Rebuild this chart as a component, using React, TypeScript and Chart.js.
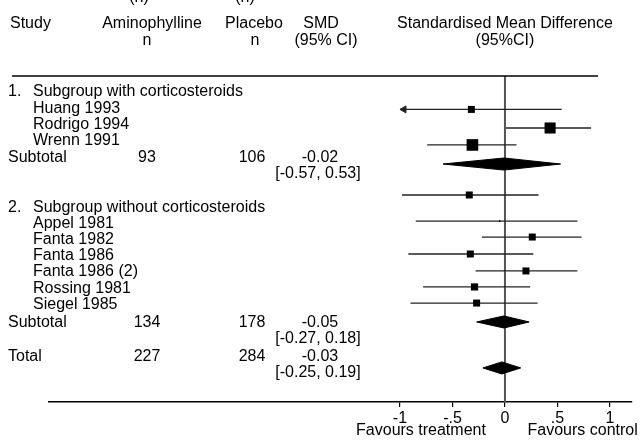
import React, { useEffect, useRef } from 'react';
import { Chart, registerables } from 'chart.js';

Chart.register(...registerables);

const FONT = '"Liberation Sans", Arial, Helvetica, sans-serif';

// ---- x axis ----
const xTicks = [-1, -0.5, 0, 0.5, 1];
const xTickLabels = ['-1', '-.5', '0', '.5', '1'];
const favourLabels = ['Favours treatment', 'Favours control'];

// ---- header ----
const headerTop = ['Study', 'Aminophylline', 'Placebo', 'SMD', 'Standardised Mean Difference'];
const headerBottom = ['', 'n', 'n', '(95% CI)', '(95%CI)'];

// ---- table text (rows in row units: 0 = top rule, 20 = axis) ----
const headingNums = ['1.', '2.'];
const headingTitles = ['Subgroup with corticosteroids', 'Subgroup without corticosteroids'];
const headingRows = [0.98, 8.05];

const studyNames = ['Huang 1993', 'Rodrigo 1994', 'Wrenn 1991', 'Appel 1981', 'Fanta 1982', 'Fanta 1986', 'Fanta 1986 (2)', 'Rossing 1981', 'Siegel 1985'];
const studyRows = [1.98, 2.98, 3.98, 9.08, 10.06, 11.04, 12.02, 13.02, 14.0];

const summaryNames = ['Subtotal', 'Subtotal', 'Total'];
const summaryRows = [4.98, 15.12, 17.2];
const summaryNTreat = [93, 134, 227];
const summaryNCtrl = [106, 178, 284];
const summarySMD = ['-0.02', '-0.05', '-0.03'];
const summaryCI = ['[-0.57, 0.53]', '[-0.27, 0.18]', '[-0.25, 0.19]'];

// ---- study markers (squares + CI lines) ----
const markerRows = [2.05, 3.19, 4.23, 7.3, 8.9, 9.88, 10.92, 11.96, 12.94, 13.93];
const markerSMD = [-0.32, 0.43, -0.31, -0.34, -0.05, 0.26, -0.33, 0.2, -0.29, -0.27];
const markerLo = [-1.3, 0.01, -0.74, -0.98, -0.85, -0.22, -0.92, -0.28, -0.78, -0.9];
const markerHi = [0.54, 0.82, 0.11, 0.32, 0.69, 0.73, 0.27, 0.69, 0.24, 0.31];
const markerWeight = [4, 10, 11, 4, 0.2, 4, 4, 4, 4.2, 4];

// ---- pooled diamonds ----
const diamondRows = [5.4, 15.09, 17.91];
const diamondMid = [-0.01, -0.01, -0.03];
const diamondLo = [-0.59, -0.27, -0.21];
const diamondHi = [0.53, 0.23, 0.15];

const X_MIN = -4.343;
const X_MAX = 1.21;
const CLIP = -1;

function App() {
  const ref = useRef<HTMLCanvasElement | null>(null);

  useEffect(() => {
    document.body.style.margin = '0';
    const canvas = ref.current;
    if (!canvas) return;

    const datasets: any[] = [];

    // squares on top
    datasets.push({
      data: markerRows.map((r, i) => ({ x: markerSMD[i], y: r })),
      pointStyle: 'rect',
      pointRadius: markerWeight.map((w) => (3.5 * Math.sqrt(w)) / Math.SQRT2),
      backgroundColor: '#000',
      borderColor: '#000',
      borderWidth: 0,
      showLine: false,
    });

    // arrows for truncated CIs
    const arrows = markerRows
      .map((r, i) => ({ r, lo: markerLo[i] }))
      .filter((d) => d.lo < CLIP)
      .map((d) => ({ x: CLIP + 4 / 105, y: d.r }));
    datasets.push({
      data: arrows,
      pointStyle: 'triangle',
      rotation: -90,
      pointRadius: 4,
      backgroundColor: '#222',
      borderColor: '#222',
      borderWidth: 1,
      showLine: false,
    });

    // CI lines
    markerRows.forEach((r, i) => {
      datasets.push({
        data: [
          { x: Math.max(markerLo[i], CLIP), y: r },
          { x: markerHi[i], y: r },
        ],
        showLine: true,
        borderColor: '#222',
        borderWidth: 1.3,
        pointRadius: 0,
        fill: false,
      });
    });

    // diamonds
    const h = 0.37;
    diamondRows.forEach((r, i) => {
      datasets.push({
        data: [
          { x: diamondLo[i], y: r },
          { x: diamondMid[i], y: r - h },
          { x: diamondHi[i], y: r },
          { x: diamondMid[i], y: r + h },
          { x: diamondLo[i], y: r },
        ],
        showLine: true,
        borderColor: '#000',
        borderWidth: 1,
        backgroundColor: '#000',
        pointRadius: 0,
        fill: 'shape',
        tension: 0,
      });
    });

    // zero line (drawn first, underneath)
    datasets.push({
      data: [
        { x: 0, y: 0 },
        { x: 0, y: 20 },
      ],
      showLine: true,
      borderColor: '#555',
      borderWidth: 2,
      pointRadius: 0,
      fill: false,
    });

    const tablePlugin = {
      id: 'forestTable',
      afterDraw(chart: any) {
        const ctx = chart.ctx as CanvasRenderingContext2D;
        const ys = chart.scales.y;
        const xs = chart.scales.x;
        const area = chart.chartArea;
        const py = (r: number) => ys.getPixelForValue(r);
        ctx.save();
        ctx.fillStyle = '#000';
        ctx.font = `16px ${FONT}`;
        ctx.textBaseline = 'middle';
        const put = (t: string, x: number, y: number, align: CanvasTextAlign) => {
          ctx.textAlign = align;
          ctx.fillText(t, x, y);
        };

        // cut-off text at very top
        ctx.textBaseline = 'alphabetic';
        put('(n)', 139, 2, 'center');
        put('(n)', 245, 2, 'center');
        ctx.textBaseline = 'middle';

        // header
        const colX = [10, 152, 254, 321, xs.getPixelForValue(0)];
        const aligns: CanvasTextAlign[] = ['left', 'center', 'center', 'center', 'center'];
        const hRow1 = py(-3.2);
        const hRow2 = py(-2.2);
        headerTop.forEach((t, i) => put(t, colX[i], hRow1, aligns[i]));
        const col2X = [10, 147, 255, 326, xs.getPixelForValue(0)];
        headerBottom.forEach((t, i) => t && put(t, col2X[i], hRow2, aligns[i]));

        // top rule
        ctx.strokeStyle = '#000';
        ctx.lineWidth = 1.5;
        ctx.beginPath();
        ctx.moveTo(12, area.top);
        ctx.lineTo(598, area.top);
        ctx.stroke();

        // group headings
        headingRows.forEach((r, i) => {
          put(headingNums[i], 8, py(r), 'left');
          put(headingTitles[i], 33, py(r), 'left');
        });
        studyNames.forEach((t, i) => put(t, 33, py(studyRows[i]), 'left'));

        summaryRows.forEach((r, i) => {
          put(summaryNames[i], 8, py(r), 'left');
          put(String(summaryNTreat[i]), 147, py(r), 'center');
          put(String(summaryNCtrl[i]), 252, py(r), 'center');
          put(summarySMD[i], 320, py(r), 'center');
          put(summaryCI[i], 318, py(r + 0.98), 'center');
        });

        // favours labels
        put(favourLabels[0], xs.getPixelForValue(-0.8), 431, 'center');
        put(favourLabels[1], xs.getPixelForValue(0.74), 431, 'center');
        ctx.restore();
      },
    };

    const chart = new Chart(canvas, {
      type: 'scatter',
      data: { datasets },
      options: {
        animation: false,
        responsive: false,
        devicePixelRatio: 1,
        events: [],
        layout: { padding: { left: 49, right: 10, top: 76, bottom: 0 } },
        plugins: { legend: { display: false }, tooltip: { enabled: false } },
        scales: {
          x: {
            type: 'linear',
            min: X_MIN,
            max: X_MAX,
            afterBuildTicks: (s: any) => {
              s.ticks = xTicks.map((v) => ({ value: v }));
            },
            afterFit: (s: any) => {
              s.height = 39;
            },
            ticks: {
              autoSkip: false,
              maxRotation: 0,
              padding: 2,
              color: '#000',
              font: { size: 16, family: FONT },
              callback: (v: any) => {
                const i = xTicks.indexOf(Number(v));
                return i >= 0 ? xTickLabels[i] : '';
              },
            },
            grid: { drawOnChartArea: false, drawTicks: true, tickLength: 5, color: '#000', lineWidth: 1.2 },
            border: { display: true, color: '#000', width: 1.5 },
          },
          y: { display: false, min: 0, max: 20, reverse: true },
        },
      },
      plugins: [tablePlugin],
    });

    return () => chart.destroy();
  }, []);

  return <canvas ref={ref} width={642} height={441} style={{ display: 'block' }} />;
}

export default App;
